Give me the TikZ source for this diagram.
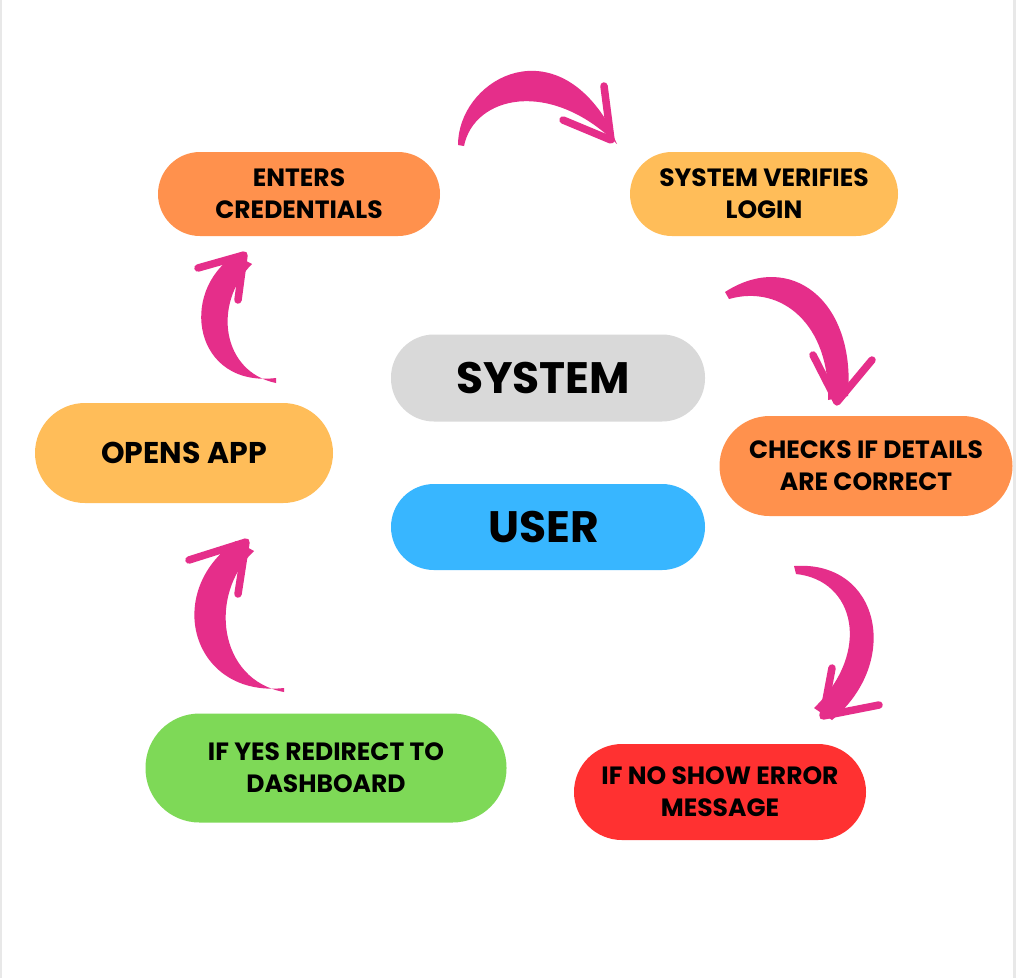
\documentclass[tikz,border=0pt]{standalone}
\usepackage{fontspec}
\setmainfont{Poppins}
\definecolor{corange}{HTML}{FF914D}
\definecolor{cyellow}{HTML}{FFBD59}
\definecolor{cgray}{HTML}{D9D9D9}
\definecolor{cblue}{HTML}{38B6FF}
\definecolor{cgreen}{HTML}{7ED957}
\definecolor{cred}{HTML}{FF3131}
\definecolor{cpink}{HTML}{E52E8A}
\definecolor{cedge}{HTML}{E8E8E8}
\tikzset{
  pill/.style={rounded corners=42pt, inner sep=0pt, align=center, font=\bfseries\fontsize{25}{32}\selectfont, text=black},
  big/.style={rounded corners=43pt, inner sep=0pt, align=center, font=\bfseries\fontsize{44}{50}\selectfont, text=black},
  body/.style={fill=cpink},
  barb/.style={draw=cpink, line width=7.5pt, line cap=round, line join=round},
}
\begin{document}
\begin{tikzpicture}[x=1pt,y=-1pt]
\useasboundingbox (0,0) rectangle (1016,978);
\fill[white] (0,0) rectangle (1016,978);
\fill[cedge] (0,0) rectangle (2,978);
\fill[cedge] (1013,0) rectangle (1016,978);
% nodes
\node[pill, fill=corange, minimum width=282pt, minimum height=84pt] (enter) at (299,194) {ENTERS\\CREDENTIALS};
\node[pill, fill=cyellow, minimum width=268pt, minimum height=84pt] (verify) at (764,194) {SYSTEM VERIFIES\\LOGIN};
\node[big, fill=cgray, minimum width=314pt, minimum height=87pt] (system) at (548,378) {SYSTEM\hspace*{10pt}};
\node[pill, fill=cyellow, rounded corners=50pt, minimum width=298pt, minimum height=100pt, font=\bfseries\fontsize{30}{36}\selectfont] (opens) at (184,453) {OPENS APP};
\node[pill, fill=corange, rounded corners=50pt, minimum width=293pt, minimum height=100pt] (checks) at (866,466) {CHECKS IF DETAILS\\ARE CORRECT};
\node[big, fill=cblue, minimum width=314pt, minimum height=86pt] (user) at (548,527) {USER\hspace*{8pt}};
\node[pill, fill=cgreen, rounded corners=54pt, minimum width=361pt, minimum height=109pt] (yes) at (326,768) {IF YES REDIRECT TO\\DASHBOARD};
\node[pill, fill=cred, rounded corners=48pt, minimum width=292pt, minimum height=96pt] (no) at (720,792) {IF NO SHOW ERROR\\MESSAGE};
% arrow 1: credentials -> verifies
\coordinate (t1) at (611,140);
\fill[body] (458,145) .. controls (458,82) and (548,28) .. (606,120) -- (617,144) .. controls (550,78) and (474,96) .. (464,146) -- cycle;
\draw[barb] (604,86) -- (t1) -- (563,120);
% arrow 2: verifies -> checks
\coordinate (t2) at (837,402);
\fill[body] (725,292) .. controls (790,250) and (856,300) .. (848,396) -- (828,400) .. controls (830,325) and (782,284) .. (729,299) -- cycle;
\draw[barb] (813,355) -- (t2) -- (872,360);
% arrow 3: checks -> no
\coordinate (t3) at (823,716);
\fill[body] (794,566) .. controls (880,560) and (902,662) .. (832,720) -- (814,708) .. controls (872,652) and (855,580) .. (796,574) -- cycle;
\draw[barb] (832,668) -- (t3) -- (879,705);
% arrow 4: yes -> opens
\coordinate (t4) at (246,542);
\fill[body] (284,688) .. controls (192,698) and (162,592) .. (236,541) -- (254,551) .. controls (208,594) and (218,680) .. (284,692) -- cycle;
\draw[barb] (189,560) -- (t4) -- (238,594);
% arrow 5: opens -> credentials
\coordinate (t5) at (244,255);
\fill[body] (276,378) .. controls (194,388) and (178,292) .. (235,255) -- (252,264) .. controls (212,304) and (222,372) .. (276,383) -- cycle;
\draw[barb] (198,268) -- (t5) -- (238,300);
\end{tikzpicture}
\end{document}
